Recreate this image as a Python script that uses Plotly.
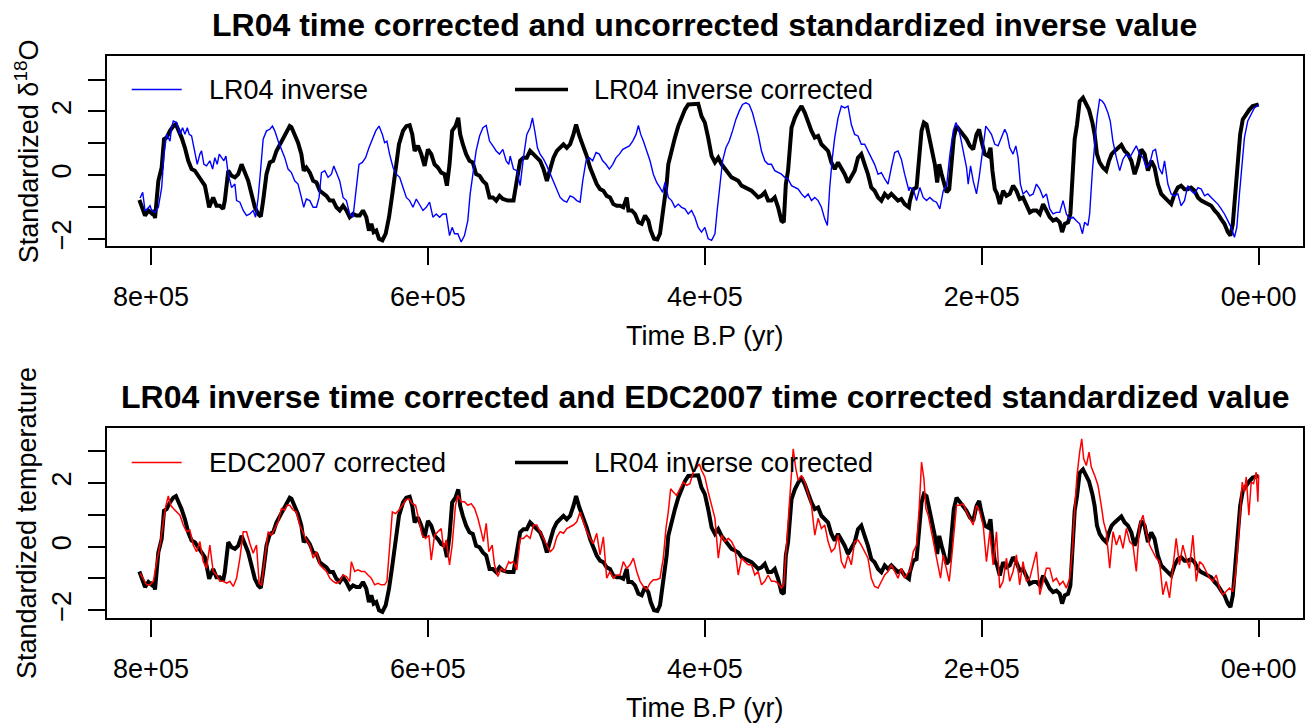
import plotly.graph_objects as go

# ---------------- data (time in kyr B.P., standardized values) ----------------
black_t = [808.4, 804.3, 801.9, 799.5, 798.3, 797.1, 794.7, 792.3, 790.6, 788.7, 786.3, 783.9, 782.0, 780.3, 777.9,
           775.5, 773.1, 770.7, 768.3, 765.9, 763.5, 761.1, 759.9, 758.0, 755.1, 752.7, 750.3, 747.9, 746.7, 744.2,
           741.8, 739.4, 737.0, 734.6, 732.2, 729.8, 727.4, 725.0, 722.6, 720.7, 719.0, 716.6, 714.2, 711.8, 709.4,
           707.0, 704.6, 702.2, 699.8, 698.6, 696.2, 693.8, 691.4, 689.7, 687.8, 685.3, 682.9, 680.5, 678.1, 675.7,
           673.3, 670.9, 668.5, 666.1, 663.7, 661.3, 658.9, 656.5, 654.1, 651.7, 649.3, 646.9, 644.5, 642.6, 640.9,
           639.2, 637.3, 635.3, 632.9, 630.5, 628.1, 625.7, 623.3, 620.9, 618.0, 615.6, 613.2, 611.3, 609.6, 607.2,
           604.8, 602.4, 600.0, 597.6, 595.2, 592.8, 590.4, 588.0, 586.3, 584.4, 582.5, 580.1, 578.1, 576.7, 574.8,
           572.4, 570.0, 567.6, 565.2, 562.7, 560.3, 557.9, 555.5, 553.1, 550.7, 548.3, 545.9, 542.3,
           538.2, 535.8, 533.4, 531.0, 528.6, 526.2, 523.8, 521.4, 519.0, 516.5, 514.1, 511.7, 509.3, 506.9, 504.5,
           502.1, 499.7, 497.3, 494.9, 493.0, 490.6, 487.7, 485.3, 482.9, 480.5, 478.1, 475.7, 473.3, 470.9, 468.5,
           466.1, 463.7, 461.3, 458.9, 456.4, 455.2, 452.8, 450.4, 448.0, 445.6, 443.2, 440.8, 439.1, 436.7, 434.3,
           432.4, 430.5, 428.8, 427.6, 426.4, 424.0, 421.6, 419.2, 416.8, 414.4, 412.0, 409.6, 407.2, 404.8, 402.4,
           400.0, 397.6, 395.1, 392.7, 390.3, 387.9, 385.5, 383.1, 380.7, 378.3, 375.9, 373.5, 371.1, 368.7, 366.3,
           363.9, 361.5, 359.1, 356.7, 354.3, 351.9, 349.5, 347.1, 344.7, 343.0, 341.5, 339.9, 337.4, 335.0, 332.6,
           330.2, 327.8, 325.4, 323.0, 320.6, 318.2, 315.8, 313.4, 311.0, 308.6, 306.2, 303.8, 301.4, 299.0, 296.6,
           294.2, 291.8, 289.4, 287.0, 284.6, 282.2, 279.8, 277.4, 274.9, 272.5, 270.1, 267.7, 265.3, 262.9, 260.5,
           258.1, 255.7, 252.6,
           251.9, 249.5, 247.1, 245.2, 243.5, 241.8, 239.9, 237.9, 236.3, 233.9, 232.2, 230.7, 229.0, 227.4, 225.4,
           223.5, 221.8, 220.2, 218.2, 215.8, 213.4, 211.0, 208.6, 206.2, 203.8, 201.9, 200.2, 197.8, 195.4, 193.7,
           192.3, 190.6, 188.9, 187.0, 184.6, 182.2, 179.8, 177.4, 175.0, 172.6, 170.2, 167.7, 165.3, 162.9, 160.5,
           158.1, 155.7, 153.3, 150.9, 148.5, 146.1, 143.7, 142.0, 140.1, 137.7, 136.0, 134.6, 132.9, 131.2, 129.3,
           126.9, 125.0, 122.6, 120.1, 118.5, 116.8, 114.9, 112.5, 110.1, 108.1, 106.2, 104.0, 101.6, 99.2, 96.8,
           94.4, 92.0, 89.6, 87.2, 84.8, 82.4, 80.0, 77.6, 75.2, 72.8, 70.4, 68.0, 65.6, 63.2, 60.8,
           58.4, 56.0, 53.6, 51.2, 48.8, 46.3, 43.9, 41.5, 39.1, 36.7, 34.3, 31.9, 29.5, 27.1, 24.7,
           22.3, 20.4, 18.7, 16.8, 15.1, 13.4, 11.5, 9.1, 6.7, 4.3, 1.9, 0.0]
black_v = [-0.78, -1.27, -1.11, -1.20, -1.11, -1.35, -0.18, 0.24, 1.13, 1.18, 1.39, 1.54, 1.59, 1.44, 1.18,
           0.86, 0.45, 0.19, 0.14, -0.02, -0.18, -0.33, -0.59, -1.01, -0.70, -0.96, -0.96, -1.06, -0.80, 0.14,
           -0.02, -0.07, 0.03, 0.34, 0.08, -0.18, -0.59, -1.01, -1.22, -1.30, -0.80, 0.03, 0.40, 0.45, 0.76,
           0.97, 1.18, 1.39, 1.54, 1.51, 1.28, 1.02, 0.66, 0.14, 0.24, 0.08, -0.18, -0.23, -0.49, -0.59,
           -0.65, -0.80, -0.80, -1.01, -1.11, -0.96, -1.11, -1.32, -1.22, -1.27, -1.27, -1.11, -1.32, -1.74, -1.53,
           -1.79, -1.74, -2.00, -2.05, -1.84, -1.32, -0.59, 0.24, 0.97, 1.39, 1.54, 1.57, 1.28, 0.76, 0.92,
           0.66, 0.29, 0.81, 0.66, 0.34, 0.24, 0.08, 0.03, -0.33, 0.34, 1.39, 1.54, 1.80, 1.28, 0.97,
           0.66, 0.45, 0.40, 0.03, -0.02, -0.18, -0.28, -0.70, -0.70, -0.80, -0.65, -0.75, -0.80,
           -0.80, -0.07, 0.45, 0.55, 0.55, 0.76, 0.66, 0.55, 0.45, 0.19, -0.18, 0.19, 0.55, 0.76, 0.86,
           0.97, 0.86, 0.97, 1.28, 1.59, 1.23, 0.92, 0.60, 0.24, -0.02, -0.28, -0.44, -0.49, -0.65, -0.70,
           -0.91, -0.96, -0.96, -1.01, -0.70, -1.11, -1.11, -1.22, -1.48, -1.53, -1.27, -1.43, -1.74, -2.00, -2.02,
           -1.84, -1.22, -0.70, -0.28, 0.34, 0.81, 1.18, 1.54, 1.80, 2.06, 2.22, 2.22, 2.24, 2.24, 1.85,
           1.65, 1.18, 0.60, 0.40, 0.55, 0.34, 0.19, 0.08, -0.07, -0.12, -0.18, -0.33, -0.39, -0.44, -0.49,
           -0.59, -0.70, -0.65, -0.54, -0.80, -0.80, -0.70, -1.01, -1.43, -1.48, -0.28, 0.14, 1.49, 1.80, 2.01,
           2.17, 1.96, 1.65, 1.39, 1.18, 1.23, 0.97, 0.86, 0.76, 0.40, 0.19, 0.40, 0.24, 0.03, -0.23,
           -0.07, 0.14, 0.55, 0.66, 0.34, 0.03, -0.39, -0.49, -0.70, -0.80, -0.59, -0.70, -0.59, -0.70, -0.80,
           -0.75, -0.91, -1.01,
           -0.80, -0.44, -0.39, 0.55, 1.39, 1.65, 1.59, 1.18, 0.81, 0.34, -0.23, 0.34, 0.03, -0.18, -0.54,
           -0.44, 0.45, 1.18, 1.54, 1.39, 1.23, 1.13, 0.92, 0.81, 1.28, 1.44, 1.07, 0.66, 0.60, 0.86,
           0.14, -0.44, -0.59, -0.91, -0.49, -0.65, -0.59, -0.33, -0.49, -0.75, -0.70, -0.91, -1.17, -1.11, -1.11,
           -1.22, -0.91, -1.11, -1.32, -1.43, -1.38, -1.48, -1.79, -1.53, -1.48, -1.22, -0.18, 1.13, 1.59, 2.32,
           2.43, 2.27, 2.06, 1.65, 1.28, 0.66, 0.40, 0.24, 0.14, 0.45, 0.66, 0.76, 0.86, 0.95, 0.76,
           0.66, 0.45, 0.03, 0.34, 0.81, 0.66, 0.14, 0.45, 0.24, -0.28, -0.59, -0.70, -0.80, -0.91, -0.59,
           -0.39, -0.33, -0.44, -0.44, -0.39, -0.49, -0.70, -0.80, -0.85, -0.91, -0.96, -1.11, -1.22, -1.38, -1.53,
           -1.79, -1.90, -1.53, -0.59, 0.24, 1.28, 1.75, 1.91, 2.06, 2.17, 2.20, 2.22]

blue_t = [807.9, 806.0, 804.3, 802.7, 800.7, 799.5, 797.1, 794.7, 792.3, 790.6, 788.7, 786.3, 785.1, 783.9, 781.5,
          779.1, 777.2, 775.5, 773.8, 772.4, 770.7, 768.3, 766.6, 764.7, 763.5, 761.8, 759.9, 757.5, 755.5, 753.9,
          752.2, 750.7, 749.0, 747.4, 745.9, 744.2, 741.8, 739.4, 738.2, 735.8, 733.4, 731.0, 728.6, 726.2, 724.5,
          722.6, 720.9, 719.0, 716.6, 714.2, 712.3, 710.6, 708.2, 705.8, 703.4, 701.0, 698.6, 696.2, 693.8, 691.4,
          689.7, 687.8, 685.3, 682.9, 680.5, 678.6, 676.9, 674.5, 672.1, 669.7, 668.0, 666.1, 663.7, 661.3, 658.9,
          656.5, 654.1, 651.7, 649.8, 647.4, 645.0, 642.6, 640.2, 637.7, 635.3, 632.9, 631.3, 629.6, 627.7, 625.2,
          622.8, 620.4, 618.0, 615.6, 613.2, 610.8, 608.4, 606.0, 603.6, 601.2, 598.8, 596.4, 594.0, 591.6, 589.2,
          586.8, 584.4, 582.5, 580.8, 578.4, 576.0, 573.6, 571.2, 569.5, 567.6, 565.2, 562.7, 560.3, 557.9, 555.5,
          553.1, 550.7, 548.3, 545.9, 543.5, 541.6,
          540.6, 538.2, 535.8, 533.4, 531.0, 528.6, 526.2, 524.5, 522.6, 520.9, 519.0, 516.5, 514.1, 511.7, 509.3,
          506.9, 504.5, 502.1, 499.7, 497.3, 494.9, 492.5, 490.1, 488.2, 485.8, 483.4, 481.0, 478.6, 476.2, 473.8,
          471.4, 469.0, 466.5, 464.1, 461.7, 459.3, 456.9, 454.5, 452.1, 449.7, 448.0, 446.3, 444.4, 442.0, 439.6,
          437.2, 434.8, 432.4, 430.5, 428.8, 426.4, 424.0, 421.6, 419.2, 416.8, 414.4, 412.0, 409.6, 407.2, 404.8,
          402.4, 400.0, 397.6, 395.1, 392.7, 391.1, 389.1, 387.2, 384.8, 382.4, 380.0, 377.6, 375.2, 372.8, 370.4,
          368.0, 365.6, 363.2, 361.5, 359.1, 356.7, 354.3, 351.9, 349.5, 347.1, 344.7, 342.3, 339.9, 337.4, 335.0,
          332.6, 330.2, 327.8, 325.4, 323.0, 320.6, 318.2, 315.8, 313.4, 311.5, 309.8, 307.9, 306.2, 303.8, 301.4,
          299.0, 296.6, 294.2, 291.8, 289.4, 287.0, 284.6, 282.2, 279.8, 277.4, 274.9, 272.5, 270.1, 267.7, 265.3,
          262.9, 260.5, 258.1, 255.7, 252.6,
          251.9, 249.5, 247.1, 244.7, 242.3, 239.9, 237.5, 235.1, 232.7, 230.3, 227.8, 225.4, 223.0, 220.6, 218.7,
          217.0, 215.3, 212.9, 211.0, 209.8, 208.1, 206.2, 203.8, 201.9, 200.2, 198.5, 197.1, 195.4, 193.0, 190.6,
          188.2, 185.8, 183.4, 181.7, 179.8, 177.4, 175.4, 173.8, 172.1, 170.2, 167.7, 165.3, 162.9, 160.5, 158.1,
          155.7, 153.3, 150.9, 148.5, 146.1, 143.7, 141.3, 138.9, 136.5, 134.1, 131.7, 129.3, 127.3, 125.7, 123.3,
          122.1, 120.1, 118.5, 116.8, 114.9, 112.9, 111.3, 108.9, 107.2, 105.3, 102.8, 100.4, 98.0, 95.6, 93.2,
          90.8, 88.4, 86.0, 83.6, 81.2, 78.8, 76.4, 74.5, 72.1, 69.7, 68.0, 65.6, 63.2, 60.8, 58.4,
          56.0, 53.6, 51.2, 48.8, 46.3, 43.9, 41.5, 39.1, 36.7, 34.3, 31.9, 29.5, 27.1, 24.7, 22.3,
          19.9, 17.5, 15.8, 13.9, 12.0, 10.3, 7.9, 5.5, 3.1, 0.0]
blue_v = [-0.72, -0.54, -1.11, -1.06, -0.96, -1.11, -1.17, -1.01, -0.39, 0.66, 1.28, 1.07, 1.49, 1.70, 1.65,
          1.28, 1.49, 1.28, 1.49, 1.28, 1.23, 0.76, 0.34, 0.66, 0.76, 0.34, 0.29, 0.45, 0.19, 0.55,
          0.34, 0.66, 0.55, 0.45, 0.60, 0.03, -0.39, -0.28, -0.80, -0.85, -1.11, -1.27, -1.22, -1.11, -1.32,
          -0.70, 0.14, 1.13, 1.39, 1.44, 1.54, 1.39, 1.07, 0.81, 0.55, 0.19, 0.08, -0.18, -0.28, -0.70,
          -1.01, -0.75, -0.80, -1.01, -1.01, -0.70, 0.08, 0.14, -0.07, 0.03, 0.29, 0.08, -0.18, -0.70, -0.80,
          -1.22, -1.32, -0.39, 0.34, 0.40, 0.55, 0.86, 1.13, 1.39, 1.54, 1.28, 1.02, 1.07, 0.66, 0.24,
          0.03, -0.07, -0.39, -0.70, -0.80, -1.01, -0.75, -0.91, -1.11, -1.01, -0.85, -1.32, -1.22, -1.32, -1.22,
          -1.22, -1.90, -1.64, -1.84, -1.84, -2.10, -1.90, -1.43, -0.59, 0.08, 0.76, 1.23, 1.49, 1.56, 1.07,
          0.92, 0.76, 0.66, 0.81, 0.45, 0.34,
          0.60, 0.19, 0.14, -0.33, 0.55, 1.28, 1.49, 1.80, 1.33, 0.86, 0.66, 0.50, 0.29, 0.03, -0.18,
          -0.49, -0.70, -0.80, -0.85, -0.65, -0.70, -0.80, -0.85, -0.18, 0.45, 0.55, 0.45, 0.71, 0.66, 0.45,
          0.34, 0.19, 0.34, 0.55, 0.66, 0.81, 0.86, 0.92, 1.07, 1.28, 1.56, 1.28, 1.07, 0.76, 0.45,
          0.03, -0.23, -0.39, -0.54, -0.23, -0.70, -0.80, -1.01, -0.91, -1.01, -1.06, -1.22, -1.11, -1.32, -1.64,
          -1.79, -1.64, -2.00, -2.05, -1.84, -1.11, -0.39, 0.45, 0.86, 1.07, 1.39, 1.75, 2.01, 2.22, 2.27,
          2.22, 1.96, 1.54, 1.28, 0.76, 0.45, 0.34, 0.34, 0.14, 0.08, 0.03, -0.07, -0.12, -0.33, -0.39,
          -0.44, -0.59, -0.70, -0.59, -0.80, -0.70, -0.80, -1.01, -1.38, -1.58, -0.39, 0.55, 1.18, 1.80, 2.17,
          2.11, 2.17, 1.59, 1.28, 1.23, 0.97, 0.97, 0.76, 0.55, 0.34, 0.03, 0.08, -0.12, -0.28, 0.24,
          0.71, 0.76, 0.50, 0.03, -0.49,
          -0.39, -0.44, -0.80, -0.39, -0.70, -0.80, -0.70, -0.80, -0.85, -1.06, -0.49, -0.33, 0.66, 1.39, 1.65,
          1.49, 1.18, 0.66, 0.24, -0.28, 0.29, -0.18, -0.59, -0.07, 0.45, 1.07, 1.54, 1.44, 1.28, 0.97,
          0.92, 1.18, 1.44, 1.28, 0.86, 0.66, 0.92, 0.55, -0.28, -0.59, -0.49, -0.65, -0.59, -0.28, -0.44,
          -0.70, -0.59, -1.06, -1.22, -1.17, -1.17, -0.80, -1.22, -1.38, -1.32, -1.43, -1.53, -1.84, -1.48, -1.58,
          -1.22, 0.14, 1.07, 1.80, 2.38, 2.32, 2.22, 1.96, 1.70, 1.07, 0.55, 0.14, 0.50, 0.66, 0.55,
          0.76, 0.92, 0.66, 0.55, 0.24, 0.34, 0.76, 0.81, 0.24, 0.03, 0.45, -0.28, -0.59, -0.65, -0.59,
          -0.96, -0.80, -0.33, -0.49, -0.59, -0.39, -0.44, -0.65, -0.59, -0.70, -0.80, -0.91, -1.06, -1.22, -1.43,
          -1.64, -1.95, -1.64, -0.59, 0.34, 1.18, 1.70, 1.91, 2.11, 2.22]

red_t = [807.9, 805.5, 803.1, 800.7, 798.3, 795.9, 793.5, 791.1, 789.2, 787.5, 785.8, 783.9, 781.5, 779.1, 776.7,
         774.3, 771.9, 769.5, 767.1, 764.7, 762.3, 759.9, 757.5, 755.1, 752.7, 750.3, 747.9, 745.4, 743.0, 740.6,
         738.2, 735.8, 733.4, 731.0, 728.6, 726.2, 723.8, 721.9, 720.2, 717.8, 715.4, 713.0, 710.6, 708.2, 705.8,
         703.4, 701.7, 699.8, 697.4, 695.0, 692.6, 690.2, 687.8, 685.3, 682.9, 680.5, 678.1, 675.7, 673.3, 670.9,
         668.5, 666.1, 663.7, 661.3, 658.9, 656.5, 655.3, 652.9, 650.5, 648.1, 645.7, 643.3, 640.9, 638.5, 636.1,
         633.7, 631.3, 629.6, 627.7, 625.7, 623.3, 620.9, 618.5, 616.1, 613.7, 611.3, 608.9, 606.5, 604.1, 601.7,
         599.3, 597.6, 595.2, 592.8, 590.4, 588.7, 586.8, 584.4, 582.5, 580.1, 578.4, 576.0, 573.6, 571.2, 568.7,
         566.3, 563.9, 561.5, 559.9, 557.9, 556.0, 553.6, 551.9, 549.5, 547.1, 544.7, 541.6,
         540.6, 538.2, 535.8, 533.4, 531.0, 528.6, 526.2, 523.8, 521.4, 519.0, 516.5, 514.1, 511.7, 509.3, 506.9,
         504.5, 502.1, 499.7, 497.3, 494.9, 492.5, 490.1, 487.7, 485.3, 482.9, 480.5, 478.1, 475.7, 473.3, 470.9,
         468.5, 466.1, 463.7, 461.3, 458.9, 456.4, 454.0, 451.6, 449.2, 446.8, 444.4, 442.0, 439.6, 437.2, 434.8,
         432.4, 430.0, 428.1, 426.4, 424.7, 422.8, 420.4, 418.0, 415.6, 413.2, 410.8, 408.4, 406.0, 404.0, 402.4,
         400.0, 397.6, 395.1, 392.7, 390.3, 387.9, 385.5, 383.1, 380.7, 378.3, 375.9, 373.5, 371.1, 368.7, 366.3,
         363.9, 361.5, 359.1, 356.7, 354.3, 351.9, 349.5, 347.1, 344.7, 343.0, 341.5, 339.9, 338.2, 336.2, 334.3,
         332.6, 330.2, 327.8, 325.4, 323.0, 320.6, 318.2, 315.8, 313.4, 311.0, 308.6, 306.2, 303.8, 301.4, 299.0,
         296.6, 294.2, 291.8, 289.4, 287.0, 284.6, 282.2, 279.8, 277.4, 274.9, 272.5, 270.1, 267.7, 265.3, 262.9,
         260.5, 258.1, 255.7, 252.6,
         251.9, 249.5, 247.1, 245.2, 243.5, 241.8, 240.4, 238.7, 236.3, 233.9, 231.5, 229.8, 227.8, 225.4, 223.5,
         221.8, 220.2, 218.2, 215.8, 213.4, 211.0, 208.6, 206.2, 203.8, 201.4, 199.0, 196.6, 194.2, 191.8, 189.4,
         187.0, 184.6, 182.2, 179.8, 177.4, 175.0, 172.6, 170.2, 167.7, 165.3, 162.9, 160.5, 158.1, 155.7, 153.3,
         150.9, 148.5, 146.1, 143.7, 141.3, 138.9, 136.5, 134.6, 132.9, 131.2, 129.3, 127.8, 126.4, 124.5, 122.5,
         120.9, 118.5, 116.1, 113.7, 112.0, 110.1, 107.6, 105.2, 102.8, 100.4, 98.0, 95.6, 93.2, 90.8, 88.4,
         86.0, 83.6, 81.2, 78.8, 76.4, 74.0, 71.6, 69.2, 66.8, 64.4, 62.0, 59.6, 57.2, 54.8, 52.4,
         50.0, 47.5, 45.1, 42.7, 40.3, 37.9, 35.5, 33.1, 30.7, 28.3, 25.9, 23.5, 21.1, 18.7, 16.8,
         15.1, 13.4, 11.9, 10.3, 9.0, 7.1, 5.4, 3.7, 1.8, 0.6, 0.0]
red_v = [-0.83, -1.04, -1.20, -1.20, -1.09, -0.47, 0.05, 0.78, 1.30, 1.59, 1.30, 1.20, 1.09, 0.99, 0.68,
         0.47, 0.52, 0.05, -0.16, 0.16, -0.47, -0.68, 0.05, -0.78, -0.89, -1.09, -1.09, -1.15, -1.09, -1.25,
         -0.99, -0.36, 0.47, 0.47, 0.10, -0.21, 0.05, -1.15, -1.20, -0.36, 0.47, 0.36, 0.57, 0.78, 1.20,
         1.15, 1.30, 1.30, 1.15, 1.09, 0.68, 0.47, 0.21, 0.05, -0.36, -0.16, -0.57, -0.68, -0.78, -0.99,
         -1.09, -1.15, -1.09, -0.89, -0.94, -1.09, -0.47, -0.78, -0.73, -0.78, -0.78, -0.89, -0.99, -1.20, -1.15,
         -1.20, -1.20, -1.09, 0.05, 1.09, 1.04, 1.15, 1.30, 1.46, 1.51, 1.35, 1.30, 0.78, 0.36, 0.26,
         0.36, -0.42, 0.36, 0.47, 0.57, -0.05, 0.21, -0.57, 0.05, 1.30, 1.61, 1.41, 1.41, 1.30, 1.35,
         1.20, 0.89, 0.47, 0.16, 0.73, -0.16, 0.05, -0.57, -0.94, -0.68, -0.78, -0.47,
         -0.52, -0.47, -0.73, 0.26, 0.26, 0.36, 0.26, 0.68, 0.68, 0.47, 0.26, 0.05, -0.16, -0.05, 0.31,
         0.47, 0.42, 0.57, 0.63, 0.68, 0.78, 1.09, 0.78, 0.47, 0.26, 0.10, 0.42, -0.26, 0.31, -0.99,
         -0.78, -0.99, -0.89, -0.89, -0.47, -0.68, -0.57, -0.36, -0.78, -1.09, -1.25, -1.35, -1.15, -1.04, -1.04,
         -0.99, -0.36, 0.57, 1.09, 1.82, 1.72, 1.61, 1.82, 2.03, 1.93, 1.98, 2.34, 2.50, 2.60, 2.40,
         2.19, 1.72, 1.30, 0.89, -0.36, 0.36, 0.16, 0.26, 0.16, -0.05, -0.89, -0.36, -0.47, -0.57, -0.57,
         -0.89, -0.78, -1.20, -1.09, -0.89, -1.09, -1.09, -1.15, -1.30, -1.20, -0.16, 0.68, 1.82, 3.07, 2.45,
         2.08, 2.24, 2.03, 1.67, 1.30, 0.36, 0.89, 0.57, 0.68, 0.16, -0.16, -0.05, 0.36, -0.47, -0.68,
         -0.26, -0.57, 0.16, 0.21, 0.05, -0.16, -0.36, -0.99, -1.25, -1.30, -1.09, -0.89, -0.78, -0.57, -0.78,
         -0.99, -0.68, -0.99, -0.78,
         -0.78, -0.16, 0.05, 1.20, 2.66, 2.14, 1.20, 0.99, 0.47, -0.16, -0.68, -0.99, -0.26, -0.78, -1.09,
         -0.36, 0.47, 1.30, 1.30, 1.35, 1.09, 0.89, 0.68, 1.30, 1.09, 0.68, -0.47, 0.47, -0.57, 0.47,
         -1.30, -1.09, -0.36, -1.09, -0.78, -0.26, -1.20, -0.47, -1.09, -0.99, -0.57, -0.16, -1.51, -1.09, -0.68,
         -0.68, -1.09, -0.99, -1.20, -1.09, -1.30, -0.99, -0.16, 1.20, 2.24, 2.97, 3.39, 2.76, 2.55, 2.97,
         2.50, 2.24, 1.93, 1.30, 0.78, 0.47, -0.68, 0.47, 0.05, 0.36, -0.05, 0.57, 0.16, 0.05, -0.78,
         0.68, 0.99, 0.47, 0.05, -0.16, -0.36, -0.47, -1.51, -1.09, -1.61, -0.68, 0.26, -0.57, 0.05, -0.36,
         -0.68, 0.36, -1.09, -0.47, -0.57, -0.78, -0.99, -1.09, -0.89, -1.30, -1.51, -1.41, -1.30, -1.41, -0.89,
         -0.05, 0.99, 2.03, 1.72, 2.19, 0.99, 2.03, 1.98, 2.34, 1.41, 2.24]

x_tickvals = [800000, 600000, 400000, 200000, 0]
x_ticktext = ["8e+05", "6e+05", "4e+05", "2e+05", "0e+00"]
y_tickvals = [-2, 0, 2]
y_ticktext = ["\u22122", "0", "2"]

def yrs(t):
    return [v * 1000 for v in t]

# ---------------- layout constants ----------------
W, H = 1310, 727
FONT = "Liberation Sans, Arial, Helvetica, sans-serif"
FS = 27
L, R = 106.7, 1303.0
TOP1, BOT1 = 56.7, 247.5
TOP2, BOT2 = 430.3, 621.7

def px(x):
    return x / W

def py(y):
    return 1 - y / H

fig = go.Figure()

# top panel
fig.add_trace(go.Scatter(x=yrs(black_t), y=black_v, mode="lines", line=dict(color="black", width=4),
                         xaxis="x", yaxis="y", showlegend=False))
fig.add_trace(go.Scatter(x=yrs(blue_t), y=blue_v, mode="lines", line=dict(color="#0000ff", width=1.4),
                         xaxis="x", yaxis="y", showlegend=False))
# bottom panel
fig.add_trace(go.Scatter(x=yrs(black_t), y=black_v, mode="lines", line=dict(color="black", width=4),
                         xaxis="x2", yaxis="y2", showlegend=False))
fig.add_trace(go.Scatter(x=yrs(red_t), y=red_v, mode="lines", line=dict(color="#ff0000", width=1.5),
                         xaxis="x2", yaxis="y2", showlegend=False))

xax = dict(range=[832000, -32000], tickvals=x_tickvals, ticktext=x_ticktext, showgrid=False, zeroline=False,
           showline=True, mirror=True, linecolor="black", linewidth=2, ticks="outside", ticklen=17,
           tickwidth=2, tickcolor="black", tickfont=dict(size=FS, color="black", family=FONT),
           domain=[px(L), px(R)], ticklabelstandoff=8)
yax = dict(tickvals=y_tickvals, ticktext=y_ticktext, showgrid=False, zeroline=False,
           showline=True, mirror=True, linecolor="black", linewidth=2, ticks="outside", ticklen=17,
           tickwidth=2, tickcolor="black", tickfont=dict(size=FS, color="black", family=FONT),
           tickangle=-90, ticklabelstandoff=6,
           minor=dict(dtick=1, tick0=0, ticks="outside", ticklen=17, tickwidth=2, tickcolor="black",
                      showgrid=False))

fig.update_layout(
    width=W, height=H, margin=dict(l=0, r=0, t=0, b=0),
    paper_bgcolor="white", plot_bgcolor="white",
    font=dict(family=FONT, size=FS, color="black"),
    xaxis=dict(xax, anchor="y"),
    yaxis=dict(yax, range=[-2.23, 3.73], domain=[py(BOT1), py(TOP1)], anchor="x"),
    xaxis2=dict(xax, anchor="y2"),
    yaxis2=dict(yax, range=[-2.25, 3.73], domain=[py(BOT2), py(TOP2)], anchor="x2"),
)

ann = []
cx = (L + R) / 2
ann.append(dict(text="<b>LR04 time corrected and uncorrected standardized inverse value</b>", x=px(cx), y=py(25),
                xref="paper", yref="paper", showarrow=False, font=dict(size=32, family=FONT), xanchor="center",
                yanchor="middle"))
ann.append(dict(text="<b>LR04 inverse time corrected and EDC2007 time corrected standardized value</b>", x=px(cx),
                y=py(399), xref="paper", yref="paper", showarrow=False, font=dict(size=32, family=FONT),
                xanchor="center", yanchor="middle"))
for yy in (338, 712):
    ann.append(dict(text="Time B.P (yr)", x=px(cx), y=py(yy), xref="paper", yref="paper", showarrow=False,
                    font=dict(size=FS, family=FONT), xanchor="center", yanchor="middle"))
ann.append(dict(text="Standardized \u03b4<sup>18</sup>O", x=px(27), y=py((TOP1 + BOT1) / 2), xref="paper",
                yref="paper", showarrow=False, textangle=-90, font=dict(size=FS, family=FONT),
                xanchor="center", yanchor="middle"))
ann.append(dict(text="Standardized temperature", x=px(27), y=py((TOP2 + BOT2) / 2), xref="paper",
                yref="paper", showarrow=False, textangle=-90, font=dict(size=FS, family=FONT),
                xanchor="center", yanchor="middle"))

# legends (drawn manually, no box)
legend_items = [
    (90.0, 131.7, 181.7, 206.7, "LR04 inverse", "#0000ff", 1.5),
    (90.0, 515.0, 568.0, 591.7, "LR04 inverse corrected", "black", 3.6),
    (465.0, 131.7, 181.7, 206.7, "EDC2007 corrected", "#ff0000", 1.5),
    (465.0, 515.0, 568.0, 591.7, "LR04 inverse corrected", "black", 3.6),
]
shapes = []
for (ly, x0, x1, tx, label, col, lw) in legend_items:
    shapes.append(dict(type="line", xref="paper", yref="paper", x0=px(x0), x1=px(x1), y0=py(ly), y1=py(ly),
                       line=dict(color=col, width=lw)))
    ann.append(dict(text=label, x=px(tx), y=py(ly + 1), xref="paper", yref="paper", showarrow=False,
                    font=dict(size=FS, family=FONT), xanchor="left", yanchor="middle"))

fig.update_layout(annotations=ann, shapes=shapes)
fig.write_html("out.html")
